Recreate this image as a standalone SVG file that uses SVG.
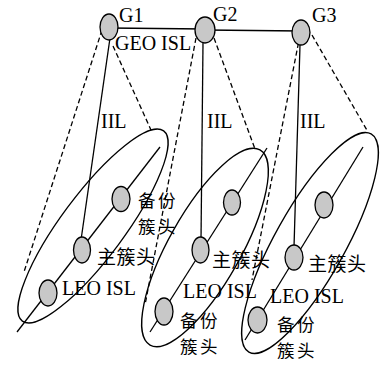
<svg xmlns="http://www.w3.org/2000/svg" width="383" height="365" viewBox="0 0 383 365">
<style>
.ln{fill:none;stroke:#000;stroke-width:1.3}
.ds{fill:none;stroke:#000;stroke-width:1.3;stroke-dasharray:5,3}
.nd{fill:#c8c8c8;stroke:#000;stroke-width:1.3}
.lt{font-family:"Liberation Serif","Times New Roman",serif;font-size:20px;fill:#000}
.ct{font-family:"Noto Sans CJK SC","Noto Sans CJK JP",sans-serif;font-size:19px;letter-spacing:0.5px;fill:#000}
.cs{font-family:"Noto Sans CJK SC","Noto Sans CJK JP",sans-serif;font-size:17.5px;letter-spacing:2.5px;fill:#000}
</style>
<rect width="383" height="365" fill="#fff"/>
<g id="orbits">
<ellipse class="ln" cx="93" cy="226" rx="118.5" ry="31.5" transform="rotate(-53.4 93 226)"/>
<ellipse class="ln" cx="205" cy="247.5" rx="112" ry="36" transform="rotate(-60.6 205 247.5)"/>
<ellipse class="ln" cx="310" cy="243" rx="125" ry="35" transform="rotate(-60.75 310 243)"/>
</g>
<g id="connectors">
<line class="ln" x1="109" y1="28" x2="205" y2="29"/>
<line class="ln" x1="205" y1="30" x2="301" y2="31"/>
<line class="ln" x1="110" y1="38" x2="81" y2="240"/>
<line class="ln" x1="203" y1="43" x2="201" y2="240"/>
<line class="ln" x1="300" y1="45" x2="294" y2="247"/>
<line class="ln" x1="160" y1="147" x2="17" y2="332"/>
<line class="ln" x1="267" y1="148" x2="150" y2="332"/>
<line class="ln" x1="363" y1="147" x2="245" y2="340"/>
<line class="ds" x1="102" y1="30" x2="24" y2="272"/>
<line class="ds" x1="113" y1="46" x2="151" y2="130"/>
<line class="ds" x1="196" y1="38" x2="145" y2="305"/>
<line class="ds" x1="214" y1="38" x2="255" y2="149"/>
<line class="ds" x1="300" y1="35" x2="252" y2="280"/>
<line class="ds" x1="312" y1="35" x2="368" y2="132"/>
</g>
<g id="G1"><ellipse class="nd" cx="109" cy="27" rx="9" ry="13"/><text class="lt" x="119" y="21.5">G1</text></g>
<g id="G2"><ellipse class="nd" cx="205" cy="30" rx="10" ry="13"/><text class="lt" x="213" y="20.5">G2</text></g>
<g id="G3"><ellipse class="nd" cx="301" cy="32.5" rx="9" ry="12.5"/><text class="lt" x="312" y="21.5">G3</text></g>
<g id="labels">
<text class="lt" x="115" y="50">GEO ISL</text>
<text class="lt" x="101" y="128">IIL</text>
<text class="lt" x="207" y="128">IIL</text>
<text class="lt" x="300" y="128">IIL</text>
</g>
<g id="c1-backup"><ellipse class="nd" cx="121" cy="199" rx="9" ry="12.5"/><text class="cs" x="138" y="207">备份</text><text class="cs" x="138" y="232.5">簇头</text></g>
<g id="c1-main"><ellipse class="nd" cx="82" cy="250" rx="8.5" ry="13"/><text class="ct" x="97" y="263.5">主簇头</text></g>
<g id="c1-leo"><ellipse class="nd" cx="48" cy="293" rx="9" ry="13"/><text class="lt" x="62" y="295">LEO ISL</text></g>
<g id="c2-backup-top"><ellipse class="nd" cx="232" cy="202.5" rx="8.5" ry="12.5"/></g>
<g id="c2-main"><ellipse class="nd" cx="200.5" cy="250" rx="8.5" ry="13"/><text class="ct" x="212" y="266.5">主簇头</text><text class="lt" x="183" y="297.5">LEO ISL</text></g>
<g id="c2-backup"><ellipse class="nd" cx="164" cy="311.5" rx="9" ry="13.5"/><text class="cs" x="180" y="327">备份</text><text class="cs" x="180" y="352.5">簇头</text></g>
<g id="c3-backup-top"><ellipse class="nd" cx="324" cy="205" rx="9" ry="13"/></g>
<g id="c3-main"><ellipse class="nd" cx="294" cy="257.5" rx="9" ry="12.5"/><text class="ct" x="308" y="271">主簇头</text><text class="lt" x="270" y="302.5">LEO ISL</text></g>
<g id="c3-backup"><ellipse class="nd" cx="257.5" cy="320" rx="9.5" ry="13"/><text class="cs" x="277" y="331">备份</text><text class="cs" x="277" y="356.5">簇头</text></g>
</svg>
